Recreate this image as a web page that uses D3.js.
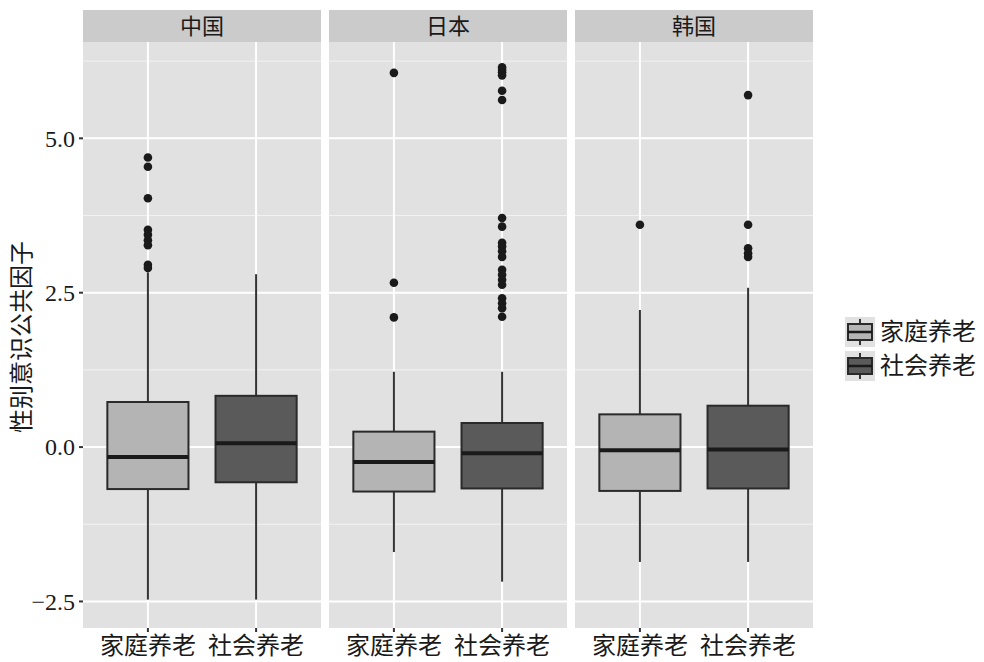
<!DOCTYPE html>
<html><head><meta charset="utf-8">
<script src="https://cdn.jsdelivr.net/npm/d3@7"></script>
<style>body{margin:0;background:#fff}</style>
</head><body>
<svg id="c" width="984" height="662"></svg>
<script>
const countries = ["中国", "日本", "韩国"];
const careTypes = ["家庭养老", "社会养老"];
const yTicks = [-2.5, 0, 2.5, 5.0];
const yMinor = [-1.25, 1.25, 3.75, 6.25];
// [country][careType]
const whiskerLow = [[-2.47, -2.47], [-1.70, -2.18], [-1.86, -1.86]];
const q1 = [[-0.68, -0.57], [-0.72, -0.67], [-0.71, -0.67]];
const median = [[-0.16, 0.06], [-0.24, -0.10], [-0.05, -0.04]];
const q3 = [[0.73, 0.83], [0.25, 0.39], [0.53, 0.67]];
const whiskerHigh = [[2.83, 2.80], [1.22, 1.22], [2.22, 2.58]];
const outliers = [
  [[4.69, 4.54, 4.03, 3.52, 3.44, 3.35, 3.27, 2.95, 2.90], []],
  [[6.06, 2.66, 2.10], [6.15, 6.11, 6.07, 6.02, 5.77, 5.62, 3.71, 3.57, 3.31, 3.25, 3.17, 3.08, 2.87, 2.79, 2.71, 2.63, 2.41, 2.33, 2.25, 2.11]],
  [[3.60], [5.70, 3.60, 3.22, 3.14, 3.08]]
];
const fills = ["#b4b4b4", "#5a5a5a"];

const svg = d3.select("#c");
const panelTop = 42, panelBottom = 628, stripTop = 10;
const panelW = 238, gap = 8, left0 = 83;
const y = d3.scaleLinear().domain([-2.93, 6.56]).range([panelBottom, panelTop]);
const serif = "'Liberation Serif','Noto Sans CJK SC',serif";
const cjk = "'Noto Sans CJK SC','Liberation Serif',serif";

countries.forEach((country, ci) => {
  const px = left0 + ci * (panelW + gap);
  const xl = d3.scaleLinear().domain([0.4, 2.6]).range([px, px + panelW]);
  const g = svg.append("g");
  g.append("rect").attr("x", px).attr("y", panelTop).attr("width", panelW).attr("height", panelBottom - panelTop).attr("fill", "#e1e1e1");
  g.append("rect").attr("x", px).attr("y", stripTop).attr("width", panelW).attr("height", panelTop - stripTop).attr("fill", "#cbcbcb");
  g.append("text").attr("x", px + panelW / 2).attr("y", 26).attr("dy", "0.35em").attr("text-anchor", "middle")
    .attr("font-family", cjk).attr("font-size", 22).attr("fill", "#1a1a1a").text(country);
  yMinor.forEach(v => g.append("line").attr("x1", px).attr("x2", px + panelW).attr("y1", y(v)).attr("y2", y(v)).attr("stroke", "#f2f2f2").attr("stroke-width", 1));
  yTicks.forEach(v => g.append("line").attr("x1", px).attr("x2", px + panelW).attr("y1", y(v)).attr("y2", y(v)).attr("stroke", "#fff").attr("stroke-width", 2));
  careTypes.forEach((t, ti) => {
    const cx = xl(ti + 1);
    g.append("line").attr("x1", cx).attr("x2", cx).attr("y1", panelTop).attr("y2", panelBottom).attr("stroke", "#fff").attr("stroke-width", 2);
  });
  careTypes.forEach((t, ti) => {
    const cx = xl(ti + 1);
    const hw = (xl(0.75) - xl(0)) / 2;
    g.append("line").attr("x1", cx).attr("x2", cx).attr("y1", y(whiskerHigh[ci][ti])).attr("y2", y(q3[ci][ti])).attr("stroke", "#333").attr("stroke-width", 2);
    g.append("line").attr("x1", cx).attr("x2", cx).attr("y1", y(q1[ci][ti])).attr("y2", y(whiskerLow[ci][ti])).attr("stroke", "#333").attr("stroke-width", 2);
    g.append("rect").attr("x", cx - hw).attr("y", y(q3[ci][ti])).attr("width", 2 * hw).attr("height", y(q1[ci][ti]) - y(q3[ci][ti]))
      .attr("fill", fills[ti]).attr("stroke", "#2a2a2a").attr("stroke-width", 2);
    g.append("line").attr("x1", cx - hw).attr("x2", cx + hw).attr("y1", y(median[ci][ti])).attr("y2", y(median[ci][ti])).attr("stroke", "#1a1a1a").attr("stroke-width", 4);
    g.selectAll(null).data(outliers[ci][ti]).enter().append("circle").attr("cx", cx).attr("cy", d => y(d)).attr("r", 4.3).attr("fill", "#1a1a1a");
    g.append("line").attr("x1", cx).attr("x2", cx).attr("y1", panelBottom).attr("y2", panelBottom + 4).attr("stroke", "#333").attr("stroke-width", 2);
    g.append("text").attr("x", cx).attr("y", 646).attr("dy", "0.35em").attr("text-anchor", "middle")
      .attr("font-family", cjk).attr("font-size", 24).attr("fill", "#1a1a1a").text(t);
  });
});

yTicks.forEach(v => {
  svg.append("line").attr("x1", left0 - 4).attr("x2", left0).attr("y1", y(v)).attr("y2", y(v)).attr("stroke", "#333").attr("stroke-width", 2);
  svg.append("text").attr("x", left0 - 8).attr("y", y(v)).attr("dy", "0.35em").attr("text-anchor", "end")
    .attr("font-family", serif).attr("font-size", 24).attr("fill", "#1a1a1a").text(v < 0 ? "\u2212" + Math.abs(v).toFixed(1) : v.toFixed(1));
});
svg.append("text").attr("transform", "translate(22,337) rotate(-90)").attr("dy", "0.35em").attr("text-anchor", "middle")
  .attr("font-family", cjk).attr("font-size", 24).attr("fill", "#1a1a1a").text("性别意识公共因子");

careTypes.forEach((t, ti) => {
  const ly = 317 + ti * 34;
  const lg = svg.append("g").attr("transform", `translate(845,${ly})`);
  lg.append("rect").attr("width", 30).attr("height", 30).attr("fill", "#e1e1e1");
  lg.append("line").attr("x1", 15).attr("x2", 15).attr("y1", 2).attr("y2", 28).attr("stroke", "#333").attr("stroke-width", 2);
  lg.append("rect").attr("x", 3).attr("y", 7).attr("width", 24).attr("height", 16).attr("fill", fills[ti]).attr("stroke", "#2a2a2a").attr("stroke-width", 2);
  lg.append("line").attr("x1", 3).attr("x2", 27).attr("y1", 15).attr("y2", 15).attr("stroke", "#1a1a1a").attr("stroke-width", 2.5);
  lg.append("text").attr("x", 35).attr("y", 15).attr("dy", "0.35em").attr("font-family", cjk).attr("font-size", 24).attr("fill", "#1a1a1a").text(t);
});
</script>
</body></html>
